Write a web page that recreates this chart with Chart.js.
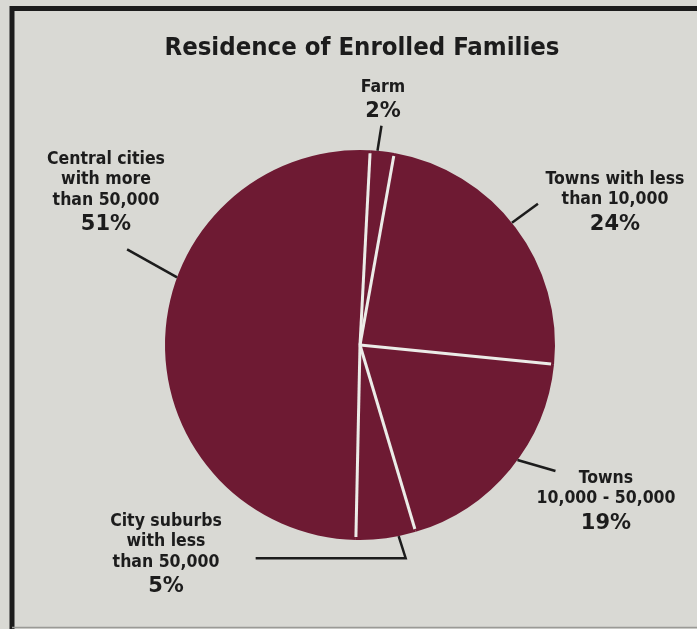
<!DOCTYPE html>
<html>
<head>
<meta charset="utf-8">
<script src="https://cdn.jsdelivr.net/npm/chart.js@4.4.1/dist/chart.umd.min.js"></script>
<style>
  html, body { margin: 0; padding: 0; background: #d9d9d4; }
  #wrap { width: 697px; height: 629px; position: relative; }
</style>
</head>
<body>
<div id="wrap"><canvas id="pieChart" width="697" height="629"></canvas></div>
<script>
// residence categories, clockwise from the top
var categories = ["Farm", "Towns with less than 10,000", "Towns 10,000 - 50,000",
                  "City suburbs with less than 50,000", "Central cities with more than 50,000"];
var shares     = [2, 24, 19, 5, 51];
var labelLines = [
    ["Farm"],
    ["Towns with less", "than 10,000"],
    ["Towns", "10,000 - 50,000"],
    ["City suburbs", "with less", "than 50,000"],
    ["Central cities", "with more", "than 50,000"]
];

// where each callout sits: anchor along the slice arc (0..1), leader path, first baseline
var callouts = [
    { at: 0.30, leader: [[4, -25]],             text: [383, 92] },
    { at: 0.48, leader: [[26, -19]],            text: [615, 184] },
    { at: 0.45, leader: [[38, 11]],             text: [606, 483] },
    { at: 0.29, leader: [[7, 22], [-143, 22]],  text: [166, 526] },
    { at: 0.60, leader: [[-50, -28]],           text: [106, 164] }
];

var ink = "#1c1c1c";
var labelFont = "'DejaVu Sans Condensed', 'Liberation Sans', Arial, sans-serif";
var ctx = document.getElementById("pieChart");

var framePlugin = {
    id: "frame",
    beforeDraw: function(chart){
        var c = chart.ctx;
        c.save();
        c.fillStyle = "#d9d9d4";
        c.fillRect(0, 0, chart.width, chart.height);
        c.strokeStyle = ink;
        c.lineWidth = 5;
        c.beginPath();
        c.moveTo(12, 629);
        c.lineTo(12, 8.5);
        c.lineTo(697, 8.5);
        c.stroke();
        c.strokeStyle = "#9a9a96";
        c.lineWidth = 1.5;
        c.beginPath();
        c.moveTo(12, 627.5);
        c.lineTo(697, 627.5);
        c.stroke();
        // title
        c.fillStyle = ink;
        c.font = "bold 25.5px " + labelFont;
        c.textAlign = "center";
        c.textBaseline = "alphabetic";
        c.fillText("Residence of Enrolled Families", 362, 55);
        c.restore();
    }
};

var calloutPlugin = {
    id: "callouts",
    afterDatasetsDraw: function(chart){
        var c = chart.ctx;
        var arcs = chart.getDatasetMeta(0).data;
        c.save();
        // light separators between slices
        c.strokeStyle = "#ececE8";
        c.lineWidth = 3;
        for(let i = 0; i < arcs.length; i++){
            var s = arcs[i].getProps(["x", "y", "startAngle", "outerRadius"], true);
            c.beginPath();
            c.moveTo(s.x, s.y);
            c.lineTo(s.x + Math.cos(s.startAngle) * (s.outerRadius - 3),
                     s.y + Math.sin(s.startAngle) * (s.outerRadius - 3));
            c.stroke();
        }
        for(let i = 0; i < arcs.length; i++){
            var p = arcs[i].getProps(["x", "y", "startAngle", "endAngle", "outerRadius"], true);
            var co = callouts[i];
            var a = p.startAngle + (p.endAngle - p.startAngle) * co.at;
            var ax = p.x + Math.cos(a) * p.outerRadius;
            var ay = p.y + Math.sin(a) * p.outerRadius;
            // leader line
            c.strokeStyle = ink;
            c.lineWidth = 2.5;
            c.beginPath();
            c.moveTo(ax, ay);
            for(let k = 0; k < co.leader.length; k++){
                c.lineTo(ax + co.leader[k][0], ay + co.leader[k][1]);
            }
            c.stroke();
            // label text
            c.fillStyle = ink;
            c.textAlign = "center";
            c.textBaseline = "alphabetic";
            c.font = "bold 17.5px " + labelFont;
            var y = co.text[1];
            for(let k = 0; k < labelLines[i].length; k++){
                c.fillText(labelLines[i][k], co.text[0], y);
                y += 20.3;
            }
            c.font = "bold 21px 'DejaVu Sans', sans-serif";
            c.fillText(shares[i] + "%", co.text[0], y + 5);
        }
        c.restore();
    }
};

var chart = new Chart(ctx, {
    type: "pie",
    data: {
        labels: categories,
        datasets: [{
            data: shares,
            backgroundColor: "#6e1a33",
            borderWidth: 0
        }]
    },
    options: {
        responsive: false,
        animation: false,
        rotation: 3,
        layout: { padding: { left: 165, right: 142, top: 150, bottom: 89 } },
        plugins: {
            legend: { display: false },
            tooltip: { enabled: false },
            title: { display: false }
        }
    },
    plugins: [framePlugin, calloutPlugin]
});
</script>
</body>
</html>
